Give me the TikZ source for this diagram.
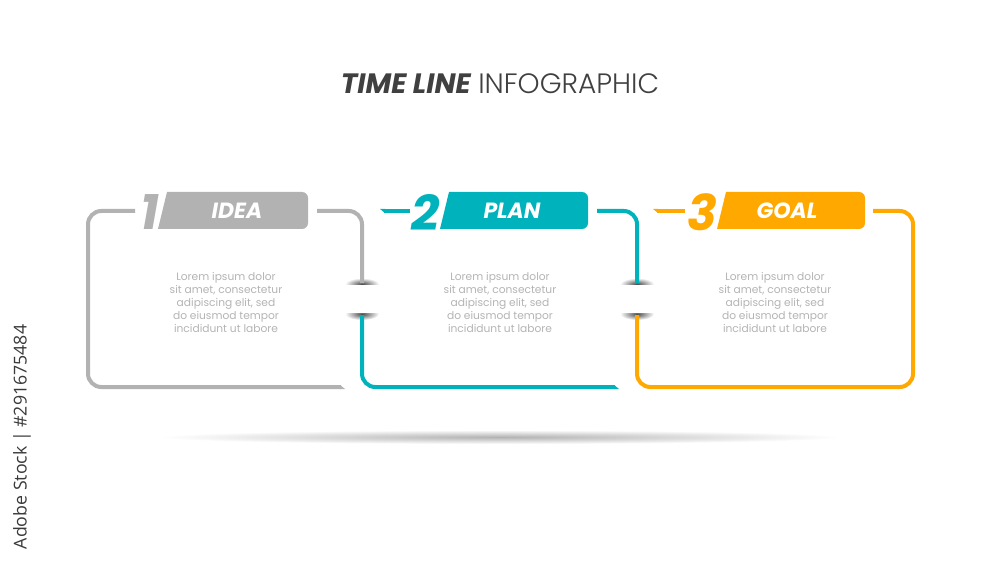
\documentclass[tikz,border=0pt]{standalone}
\usepackage{fontspec}
\setmainfont{Poppins}
\newfontfamily\plight{Poppins Light}
\newfontfamily\osans{Open Sans}
\definecolor{cgray}{RGB}{178,178,178}
\definecolor{cteal}{RGB}{0,178,187}
\definecolor{corange}{RGB}{255,168,0}
\definecolor{ctext}{RGB}{180,180,180}
\definecolor{ctitle}{RGB}{64,64,64}
\begin{document}
\begin{tikzpicture}[x=0.75pt,y=-0.75pt,
  frame/.style={line width=3pt, rounded corners=10pt},
  numeral/.style={font=\bfseries\itshape\fontsize{37}{37}\selectfont, inner sep=0pt},
  tablabel/.style={font=\bfseries\itshape\fontsize{16.5}{16.5}\selectfont, text=white, inner sep=0pt},
  body/.style={align=center, font=\fontsize{8}{9.75}\selectfont, text=ctext, inner sep=0pt},
  breakshadow/.style={inner color=black!70, outer color=white}]
\useasboundingbox[fill=white] (0,0) rectangle (1000,563);

% ground shadow
\shade[inner color=black!30, outer color=white] (500,437) ellipse [x radius=340, y radius=7];

% title
\node[font=\fontsize{21}{21}\selectfont, text=ctitle, inner sep=0pt] (title) at (500,84)
  {{\bfseries\itshape TIME LINE} {\plight INFOGRAPHIC}};

% side credit
\node[rotate=90, font=\osans\fontsize{13.3}{13.3}\selectfont, text=ctitle!90!black, inner sep=0pt] (credit) at (22,437)
  {Adobe Stock | \#291675484};

% break shadows
\foreach \xb in {362,637}{
  \shade[breakshadow] (\xb,284) ellipse [x radius=17, y radius=6];
  \shade[breakshadow] (\xb,314) ellipse [x radius=17, y radius=6];
  \fill[white] (\xb-25,285) rectangle (\xb+25,313);
}

% box 1 (gray)
\draw[frame, draw=cgray] (135,211) -- (88,211) -- (88,387) -- (341,387);
\fill[cgray] (340,385) -- (340,389) -- (345,389) -- cycle;
\draw[frame, draw=cgray] (317,211) -- (362,211) -- (362,283);
% box 2 (teal)
\draw[frame, draw=cteal] (384,211) -- (410,211);
\fill[cteal] (385,209) -- (385,213) -- (380,209) -- cycle;
\draw[frame, draw=cteal] (597,211) -- (637,211) -- (637,283);
\draw[frame, draw=cteal] (362,315) -- (362,387) -- (615,387);
\fill[cteal] (614,385) -- (614,389) -- (619,389) -- cycle;
% box 3 (orange)
\draw[frame, draw=corange] (657,211) -- (685,211);
\fill[corange] (658,209) -- (658,213) -- (653,209) -- cycle;
\draw[frame, draw=corange] (873,211) -- (913,211) -- (913,387) -- (637,387) -- (637,315);

% tabs
\fill[cgray] (158,229) -- (167,192) [rounded corners=4.5pt] -- (308,192) -- (308,229) [sharp corners] -- cycle;
\fill[cteal] (440,229) -- (449,192) [rounded corners=4.5pt] -- (588,192) -- (588,229) [sharp corners] -- cycle;
\fill[corange] (717,229) -- (726,192) [rounded corners=4.5pt] -- (865,192) -- (865,229) [sharp corners] -- cycle;

% numerals
\node[numeral, text=cgray] (n1) at (150,212) {1};
\node[numeral, text=cteal] (n2) at (426,212) {2};
\node[numeral, text=corange] (n3) at (702,212) {3};

% tab labels
\node[tablabel] (l1) at (237,211) {IDEA};
\node[tablabel] (l2) at (512,211) {PLAN};
\node[tablabel] (l3) at (787,211) {GOAL};

% body texts
\node[body] (b1) at (226,302) {Lorem ipsum dolor\\sit amet, consectetur\\adipiscing elit, sed\\do eiusmod tempor\\incididunt ut labore};
\node[body] (b2) at (500,302) {Lorem ipsum dolor\\sit amet, consectetur\\adipiscing elit, sed\\do eiusmod tempor\\incididunt ut labore};
\node[body] (b3) at (775,302) {Lorem ipsum dolor\\sit amet, consectetur\\adipiscing elit, sed\\do eiusmod tempor\\incididunt ut labore};
\end{tikzpicture}
\end{document}
